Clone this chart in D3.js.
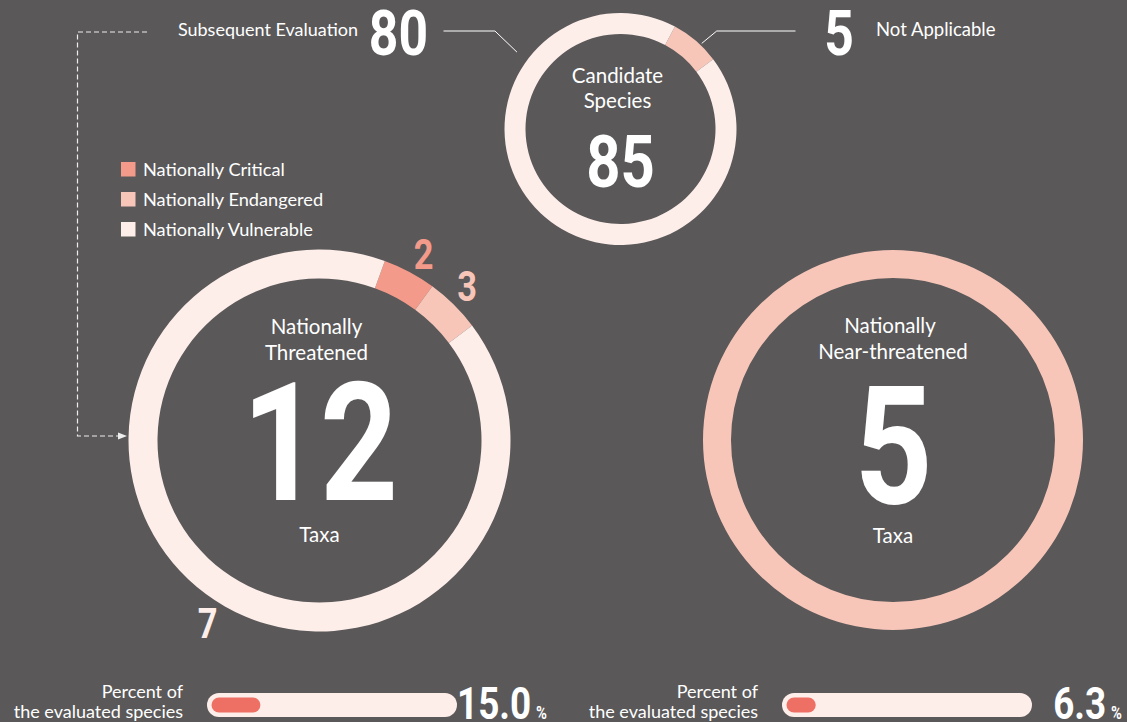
<!DOCTYPE html>
<html>
<head>
<meta charset="utf-8">
<script src="https://cdn.jsdelivr.net/npm/d3@7"></script>
<style>
  html, body { margin: 0; padding: 0; background: #5a5859; }
  svg { display: block; }
  text { font-family: Lato, "Open Sans", sans-serif; }
  .num { font-family: Roboto, sans-serif; font-weight: 700; }
</style>
</head>
<body>
<svg width="1127" height="722"></svg>
<script>
// ---- data
const categories = ['Nationally Critical', 'Nationally Endangered', 'Nationally Vulnerable'];
const threatenedValues = [2, 3, 7];
const candidateLabels = ['Not Applicable', 'Subsequent Evaluation'];
const candidateValues = [5, 80];
const nearThreatenedValues = [5];
const percentValues = [15.0, 6.3];
const percentLabels = ['15.0', '6.3'];

const colors = {
  bg: '#5a5859',
  critical: '#f39a8a',
  endangered: '#f7c6b9',
  vulnerable: '#fdeeea',
  bar: '#ee6f63'
};
const catColor = d3.scaleOrdinal().domain(categories).range([colors.critical, colors.endangered, colors.vulnerable]);

const svg = d3.select('svg');
const rad = deg => deg * Math.PI / 180;
const CONDENSE = 0.82;

function bigNum(g, x, y, size, txt, fill, anchor = 'middle') {
  return g.append('text')
    .attr('class', 'num')
    .attr('transform', `translate(${x},${y}) scale(${CONDENSE},1)`)
    .attr('text-anchor', anchor)
    .attr('font-size', size)
    .attr('fill', fill)
    .text(txt);
}

function segments(values, angle) {
  const cum = [0, ...d3.cumsum(values)];
  return values.map((v, i) => ({ value: v, index: i, startAngle: angle(cum[i]), endAngle: angle(cum[i + 1]) }));
}

// ---- Candidate species (top)
const gTop = svg.append('g').attr('transform', 'translate(620.5,129)');
const candAngle = d3.scaleLinear()
  .domain([0, ...d3.cumsum(candidateValues)])
  .range([rad(28), rad(53), rad(388)]);
const candArc = d3.arc().innerRadius(95).outerRadius(116);
const candSegs = segments(candidateValues, candAngle);
gTop.selectAll('.cand')
  .data(candSegs)
  .enter().append('path')
  .attr('class', 'cand')
  .attr('d', candArc)
  .attr('fill', (d, i) => i === 0 ? colors.endangered : colors.vulnerable);

gTop.append('text').attr('x', -3).attr('y', -46).attr('text-anchor', 'middle')
  .attr('font-size', 20.5).attr('fill', '#fff').text('Candidate');
gTop.append('text').attr('x', -3).attr('y', -21).attr('text-anchor', 'middle')
  .attr('font-size', 20.5).attr('fill', '#fff').text('Species');
bigNum(gTop, 0, 58, 73, d3.sum(candidateValues), '#fff');

// leader lines
const naSeg = candSegs[0];
const naMid = (naSeg.startAngle + naSeg.endAngle) / 2 + rad(3);
const naStart = [118 * Math.sin(naMid), -118 * Math.cos(naMid)];
gTop.append('path')
  .attr('d', `M${naStart[0]},${naStart[1]} L${naStart[0] + 15},-98 H175`)
  .attr('fill', 'none').attr('stroke', '#fff').attr('stroke-width', 1);
const seAng = rad(-53.4);
const seStart = [129 * Math.sin(seAng), -129 * Math.cos(seAng)];
gTop.append('path')
  .attr('d', `M${seStart[0]},${seStart[1]} L${seStart[0] - 22},-98 H-177`)
  .attr('fill', 'none').attr('stroke', '#fff').attr('stroke-width', 1);

bigNum(svg, 839, 55, 63, candidateValues[0], '#fff');
svg.append('text').attr('x', 876).attr('y', 36).attr('font-size', 18.5).attr('fill', '#fff').text(candidateLabels[0]);
bigNum(svg, 398.5, 55, 63, candidateValues[1], '#fff');
svg.append('text').attr('x', 358).attr('y', 36).attr('text-anchor', 'end').attr('font-size', 18).attr('fill', '#fff').text(candidateLabels[1]);

// dashed connector to the threatened donut
svg.append('path')
  .attr('d', 'M147,32 H77.5 V436 H119')
  .attr('fill', 'none').attr('stroke', '#eeeeee').attr('stroke-width', 1.2)
  .attr('stroke-dasharray', '5,3');
svg.append('path')
  .attr('d', 'M118,432.5 L127,436 L118,439.5 Z')
  .attr('fill', '#eeeeee');

// ---- Legend
const legend = svg.append('g').attr('transform', 'translate(121,162)');
categories.forEach((c, i) => {
  legend.append('rect').attr('x', 0).attr('y', i * 30).attr('width', 14.5).attr('height', 14.5).attr('fill', catColor(c));
  legend.append('text').attr('x', 22).attr('y', i * 30 + 13.5).attr('font-size', 18.2).attr('fill', '#fff').text(c);
});

// ---- Nationally threatened (left)
const gLeft = svg.append('g').attr('transform', 'translate(319.5,440.5)');
const thrAngle = d3.scaleLinear()
  .domain([0, ...d3.cumsum(threatenedValues)])
  .range([rad(20), rad(36.2), rad(53), rad(380)]);
const thrArc = d3.arc().innerRadius(162).outerRadius(191);
const labelArc = d3.arc().innerRadius(214).outerRadius(214);
const labelNudge = [rad(1), rad(-1), rad(-5)];
const thrSegs = segments(threatenedValues, thrAngle);
gLeft.selectAll('.thr')
  .data(thrSegs)
  .enter().append('path')
  .attr('class', 'thr')
  .attr('d', thrArc)
  .attr('fill', d => catColor(categories[d.index]));
thrSegs.forEach(d => {
  const n = labelNudge[d.index];
  const [x, y] = labelArc.centroid({ startAngle: d.startAngle + n, endAngle: d.endAngle + n });
  bigNum(gLeft, x, y + 15, 42, d.value, catColor(categories[d.index]));
});

gLeft.append('text').attr('x', -3).attr('y', -107).attr('text-anchor', 'middle')
  .attr('font-size', 20.5).attr('fill', '#fff').text('Nationally');
gLeft.append('text').attr('x', -3).attr('y', -81).attr('text-anchor', 'middle')
  .attr('font-size', 20.5).attr('fill', '#fff').text('Threatened');
bigNum(gLeft, 0.5, 59.5, 166, d3.sum(threatenedValues), '#fff');
gLeft.append('text').attr('x', 0).attr('y', 101).attr('text-anchor', 'middle')
  .attr('font-size', 20.5).attr('fill', '#fff').text('Taxa');

// ---- Nationally near-threatened (right)
const gRight = svg.append('g').attr('transform', 'translate(893,440)');
gRight.append('path')
  .attr('d', d3.arc().innerRadius(162).outerRadius(190)({ startAngle: 0, endAngle: 2 * Math.PI }))
  .attr('fill', colors.endangered);
gRight.append('text').attr('x', -3).attr('y', -107).attr('text-anchor', 'middle')
  .attr('font-size', 20.5).attr('fill', '#fff').text('Nationally');
gRight.append('text').attr('x', 0).attr('y', -81).attr('text-anchor', 'middle')
  .attr('font-size', 20.5).attr('fill', '#fff').text('Near-threatened');
bigNum(gRight, 0.5, 63, 166, d3.sum(nearThreatenedValues), '#fff');
gRight.append('text').attr('x', 0).attr('y', 103).attr('text-anchor', 'middle')
  .attr('font-size', 20.5).attr('fill', '#fff').text('Taxa');

// ---- Percent bars
const trackW = 250, trackH = 24, inset = 4.5;
const innerH = trackH - 2 * inset;
const pctScale = d3.scaleLinear().domain([0, 100]).range([0, trackW - innerH - 2 * inset]);
const barX = [207, 782];

percentValues.forEach((p, i) => {
  const g = svg.append('g').attr('transform', `translate(${barX[i]},693)`);
  g.append('text').attr('x', -24).attr('y', 5).attr('text-anchor', 'end')
    .attr('font-size', 18).attr('fill', '#fff').text('Percent of');
  g.append('text').attr('x', -24).attr('y', 25).attr('text-anchor', 'end')
    .attr('font-size', 18).attr('fill', '#fff').text('the evaluated species');
  g.append('rect').attr('x', 0).attr('y', 0).attr('width', trackW).attr('height', trackH)
    .attr('rx', trackH / 2).attr('fill', colors.vulnerable);
  g.append('rect').attr('x', inset).attr('y', inset).attr('width', innerH + pctScale(p)).attr('height', innerH)
    .attr('rx', innerH / 2).attr('fill', colors.bar);
  const t = g.append('text').attr('class', 'num')
    .attr('transform', `translate(${trackW + 90},26) scale(${CONDENSE},1)`)
    .attr('text-anchor', 'end').attr('fill', '#fff');
  t.append('tspan').attr('font-size', 45).text(percentLabels[i]);
  t.append('tspan').attr('font-size', 18).attr('dx', 6).text('%');
});
</script>
</body>
</html>
